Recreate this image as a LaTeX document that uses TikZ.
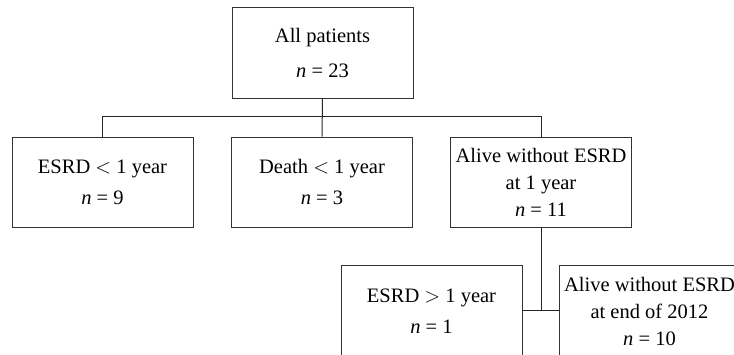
\documentclass[tikz,border=0pt]{standalone}
\usepackage{fontspec}
\setmainfont{Liberation Serif}
\begin{document}
\begin{tikzpicture}[x=1pt,y=1pt,
  box/.style={draw=black!80, line width=0.8pt, minimum width=181pt, align=center,
    font=\fontsize{20.5}{31}\selectfont, inner sep=0pt},
  boxtop/.style={box, font=\fontsize{20.5}{35}\selectfont},
  box3/.style={box, font=\fontsize{20.5}{27}\selectfont},
  link/.style={draw=black!85, line width=1pt}]
\useasboundingbox (0,0) rectangle (734,355);
\clip (0,0) rectangle (734,355);
\node[boxtop, minimum height=91pt] (top) at (322.5,302.5) {All patients\\\textit{n} = 23};
\node[box, minimum height=90pt] (b1) at (102.5,173) {ESRD $<$ 1 year\\\textit{n} = 9};
\node[box, minimum height=90pt] (b2) at (322,173) {Death $<$ 1 year\\\textit{n} = 3};
\node[box3, minimum height=90pt] (b3) at (541,173) {Alive without ESRD\\at 1 year\\\textit{n} = 11};
\node[box, minimum height=92pt] (c1) at (431.5,44) {ESRD $>$ 1 year\\\textit{n} = 1};
\node[box3, minimum height=92pt] (c2) at (649.5,44) {Alive without ESRD\\at end of 2012\\\textit{n} = 10};
\coordinate (bus) at (0,238);
\draw[link] (top.south) -- (b2.north);
\draw[link] (b1.north) -- (b1.north |- bus) -- (b3.north |- bus) -- (b3.north);
\draw[link] (b3.south) -- (b3.south |- c1.east);
\draw[link] (c1.east) -- (c2.west);
\end{tikzpicture}
\end{document}
